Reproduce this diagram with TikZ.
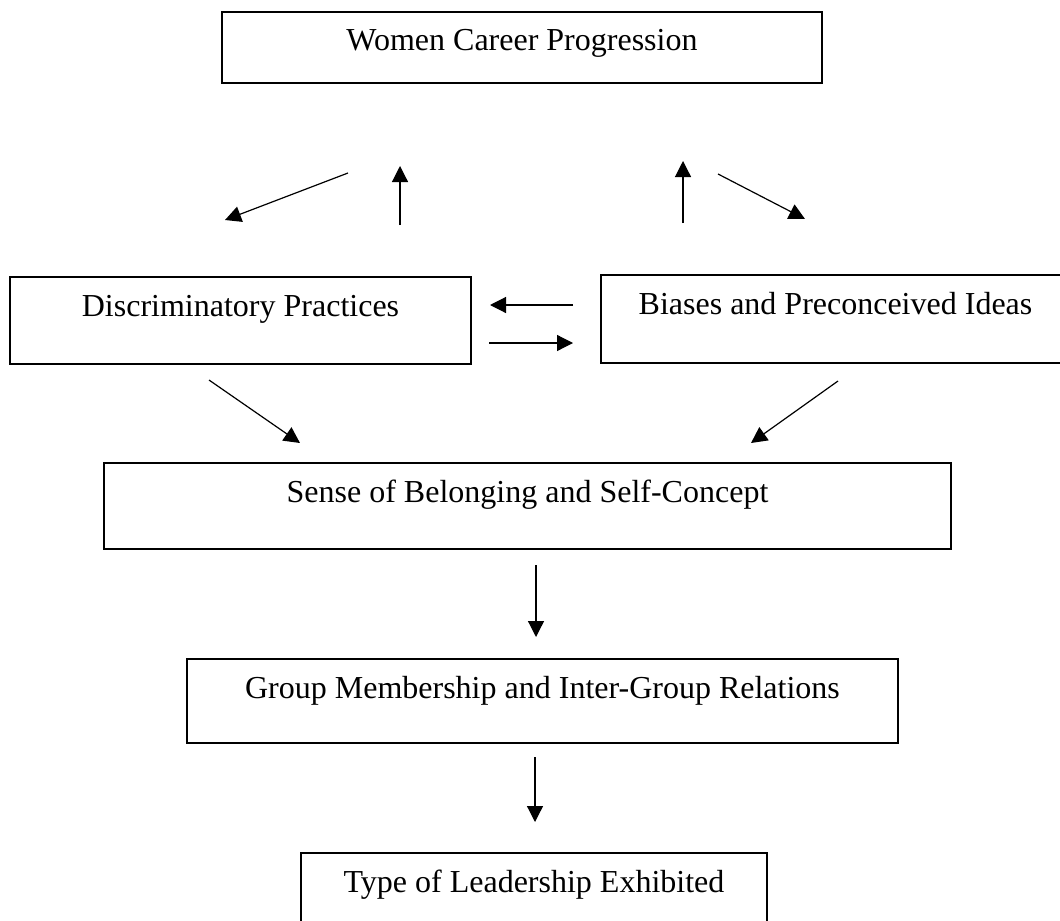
\documentclass[tikz,border=0pt]{standalone}
\usepackage{fontspec}
\setmainfont{Liberation Serif}
\usetikzlibrary{arrows.meta}
\tikzset{
  box/.style={draw,line width=0.8pt,anchor=north,inner xsep=0pt,inner ysep=0pt,
    text height=14.6pt,font=\fontsize{12pt}{14pt}\selectfont},
}

\begin{document}
\begin{tikzpicture}[x=0.375pt,y=-0.375pt,line width=0.45pt,>={Triangle[length=6pt,width=6pt]}]
    \useasboundingbox (0,0) rectangle (1060,920);
    \node[box,minimum width=225pt,text depth=12pt] (WCP) at (522,11) {Women Career Progression};
    \node[box,minimum width=172.9pt,text depth=18pt] (DP) at (240.5,276) {Discriminatory Practices};
    \node[box,minimum width=175.9pt,text depth=18.4pt] (BPI) at (835.5,274) {Biases and Preconceived Ideas};
    \node[box,minimum width=317.6pt,text depth=17.6pt] (SBC) at (527.5,462) {Sense of Belonging and Self-Concept};
    \node[box,minimum width=266.6pt,text depth=16.9pt] (GMR) at (542.5,658) {Group Membership and Inter-Group Relations};
    \node[box,minimum width=174.75pt,text depth=12.4pt] (TLE) at (534,852) {Type of Leadership Exhibited};
    % free arrow ends
    \coordinate (W1) at (348,173);  \coordinate (D1) at (225,220);
    \coordinate (D2) at (400,225);  \coordinate (W2) at (400,166);
    \coordinate (B1) at (683,223);  \coordinate (W3) at (683,161);
    \coordinate (W4) at (718,174);  \coordinate (B2) at (805,219);
    \coordinate (B3) at (573,305);  \coordinate (D3) at (490,305);
    \coordinate (D4) at (489,343);  \coordinate (B4) at (573,343);
    \coordinate (D5) at (209,380);  \coordinate (S1) at (300,443);
    \coordinate (B5) at (838,381);  \coordinate (S2) at (751,443);
    \coordinate (S3) at (536,565);  \coordinate (G1) at (536,637);
    \coordinate (G2) at (535,757);  \coordinate (T1) at (535,822);
    \path[->] (W1) edge (D1);
    \path[->] (D2) edge (W2);
    \path[->] (B1) edge (W3);
    \path[->] (W4) edge (B2);
    \path[->] (B3) edge (D3);
    \path[->] (D4) edge (B4);
    \path[->] (D5) edge (S1);
    \path[->] (B5) edge (S2);
    \path[->] (S3) edge (G1);
    \path[->] (G2) edge (T1);
\end{tikzpicture}
\end{document}
